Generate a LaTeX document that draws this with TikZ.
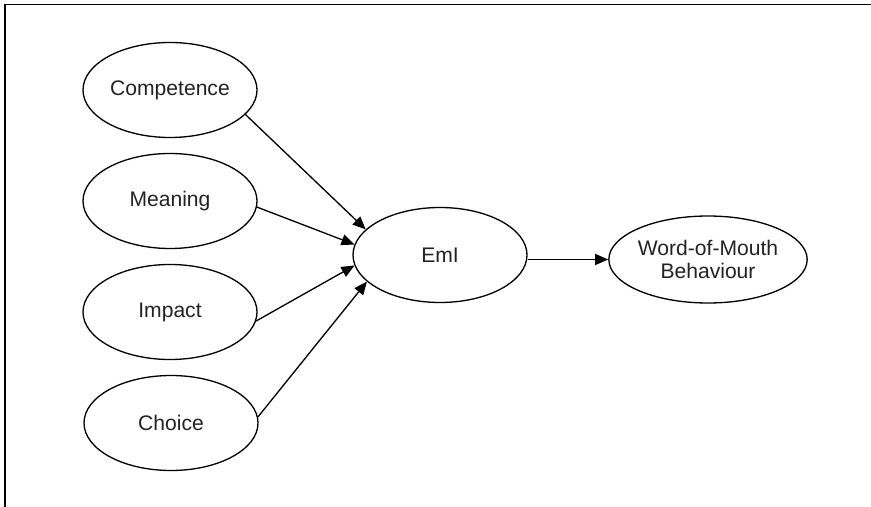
\documentclass[tikz,border=0pt]{standalone}
\usepackage{fontspec}
\setmainfont{Liberation Sans}
\usepackage{tikz}
\usetikzlibrary{shapes.geometric,arrows.meta}
\definecolor{textgray}{RGB}{34,34,34}

\begin{document}
\begin{tikzpicture}[
    construct/.style={ellipse, draw=black, line width=0.75pt, inner sep=0pt,
                minimum width=3.48cm, minimum height=1.9cm, align=center,
                text=textgray, font=\fontsize{12}{13}\selectfont},
    path/.style={-{Triangle[length=0.26cm,width=0.22cm]}, line width=0.75pt}
]
\useasboundingbox (0,0) rectangle (17.42,-10.14);
\draw[line width=0.9pt] (0.1,-10.14) -- (0.1,-0.09) -- (17.42,-0.09);

\node[construct] (comp)    at (3.4,-1.8)   {Competence};
\node[construct] (meaning) at (3.4,-4.02)  {Meaning};
\node[construct] (impact)  at (3.4,-6.24)  {Impact};
\node[construct] (choice)  at (3.42,-8.46) {Choice};
\node[construct] (emi)     at (8.8,-5.1)   {EmI};
\node[construct, minimum width=3.46cm, minimum height=1.74cm]
                 (wom)     at (14.16,-5.19) {Word-of-Mouth\\Behaviour};

\draw[path] (comp.-18) -- (emi.161);
\draw[path] (meaning.-4.5) -- (emi.173);
\draw[path] (impact.-6.5) -- (emi.187);
\draw[path] (choice.4) -- (emi.200);
\draw[path] (emi.east |- wom.west) -- (wom.west);
\end{tikzpicture}
\end{document}
